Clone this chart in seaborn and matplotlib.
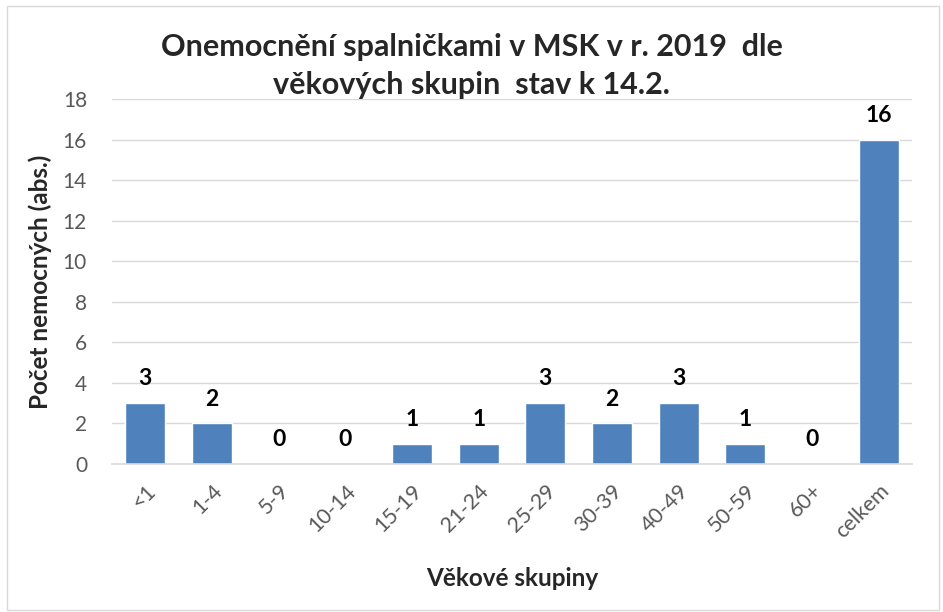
import matplotlib as mpl
import matplotlib.pyplot as plt
import matplotlib.patches as mpatches
import pandas as pd
import seaborn as sns

categories = ["<1", "1-4", "5-9", "10-14", "15-19", "21-24", "25-29",
              "30-39", "40-49", "50-59", "60+", "celkem"]
counts = [3, 2, 0, 0, 1, 1, 3, 2, 3, 1, 0, 16]

title = "Onemocnění spalničkami v MSK v r. 2019  dle\nvěkových skupin  stav k 14.2."
x_label = "Věkové skupiny"
y_label = "Počet nemocných (abs.)"

sns.set_theme(style="white")
mpl.rcParams.update({"font.family": ["Lato", "DejaVu Sans"]})

df = pd.DataFrame({"group": categories, "count": counts})

fig = plt.figure(figsize=(9.43, 6.12), dpi=100)
ax = fig.add_axes([112 / 943, 1 - 464 / 612, 800 / 943, 365 / 612])

sns.barplot(df, x="group", y="count", color="#4f81bd", saturation=1,
            width=0.6, ax=ax)

ax.set_ylim(0, 18)
ax.set_yticks(range(0, 19, 2))
ax.yaxis.grid(True, color="#d9d9d9", linewidth=1)
ax.set_axisbelow(True)
for side in ["top", "right", "left"]:
    ax.spines[side].set_visible(False)
ax.spines["bottom"].set_color("#d9d9d9")
ax.spines["bottom"].set_linewidth(1.2)
ax.tick_params(axis="both", length=0, colors="#595959")
ax.tick_params(axis="y", pad=18, labelsize=15)
ax.tick_params(axis="x", pad=12, labelsize=15.5)
for lbl in ax.get_xticklabels():
    lbl.set_rotation(45)
    lbl.set_ha("right")
    lbl.set_rotation_mode("anchor")

ax.bar_label(ax.containers[0], labels=[str(c) for c in counts], padding=10,
             fontsize=16.5, fontweight="bold", color="black")

ax.set_xlabel(x_label, fontsize=17.5, fontweight="bold", labelpad=18)
ax.set_ylabel(y_label, fontsize=17.5, fontweight="bold", labelpad=8)

fig.text(0.5, 1 - 66 / 612, title, ha="center", va="center",
         fontsize=22, fontweight="bold", linespacing=1.45)

fig.patches.append(mpatches.Rectangle((7 / 943, 2 / 612), 932 / 943, 604 / 612,
                                      transform=fig.transFigure, fill=False,
                                      edgecolor="#d9d9d9", linewidth=1))

fig.savefig("out.png", dpi=100)
